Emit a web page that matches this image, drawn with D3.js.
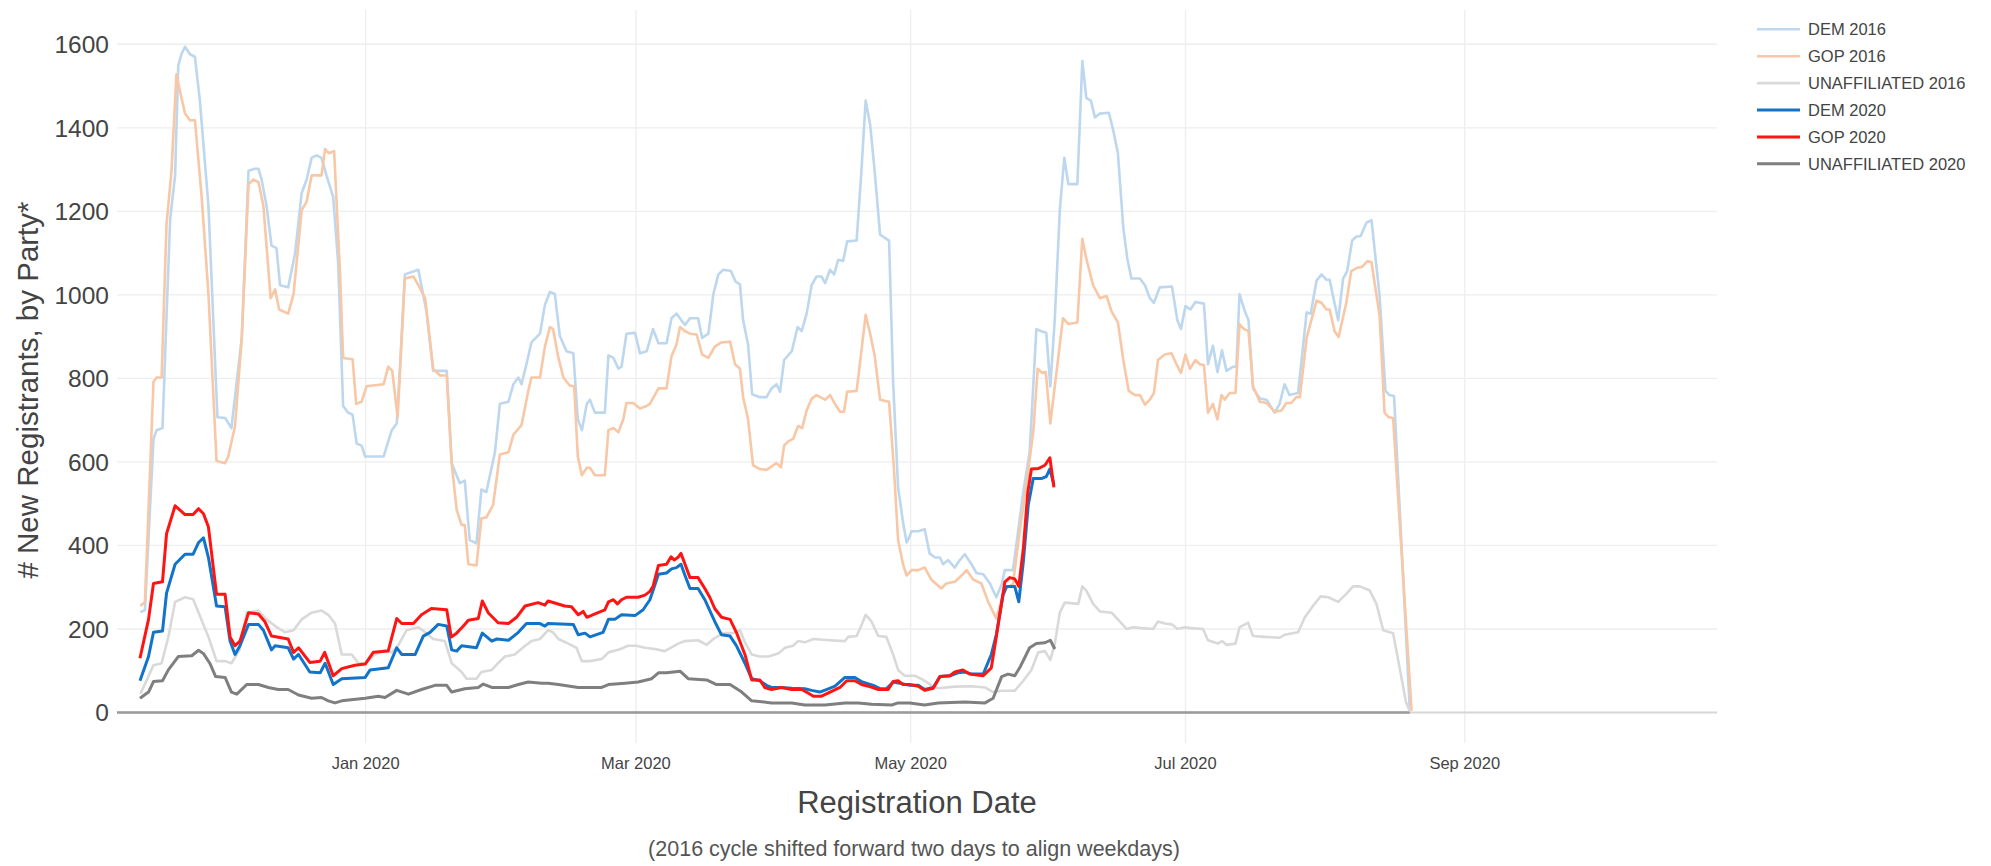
<!DOCTYPE html>
<html>
<head>
<meta charset="utf-8">
<script src="https://cdn.jsdelivr.net/npm/d3@7"></script>
<style>
  body { margin: 0; background: #fff; }
  text { font-family: Arial, "Liberation Sans", sans-serif; fill: #444; }
</style>
</head>
<body>
<div id="chart"></div>
<script>
  // values: [days from 1 Jan 2020, new registrants]
  const dem2016 = [[-50,240],[-49,245],[-47.1,655],[-46.4,676],[-45.1,681],[-44.2,950],[-43.4,1181],[-42.3,1286],[-41.6,1549],[-40.9,1576],[-40.1,1594],[-39,1576],[-37.9,1570],[-36.8,1465],[-34.9,1213],[-32.9,707],[-31.2,705],[-29.8,681],[-27.5,897],[-26,1297],[-24.6,1302],[-23.8,1302],[-23.1,1276],[-22,1213],[-20.9,1118],[-19.8,1112],[-19,1023],[-17.2,1018],[-15.7,1097],[-14.2,1244],[-13.1,1276],[-12,1328],[-10.9,1334],[-9.8,1328],[-8.7,1286],[-7.2,1234],[-6.1,1076],[-5,734],[-3.9,718],[-2.9,713],[-2,644],[-0.9,639],[-0.1,613],[4,613],[5.8,676],[6.9,692],[7.6,823],[8.7,1049],[11.7,1060],[13.5,960],[15,818],[18,818],[19.1,597],[20.9,549],[22,555],[23.1,413],[24.6,405],[25.7,534],[26.8,528],[28.7,623],[29.8,739],[31.7,744],[32.8,786],[33.9,802],[34.6,786],[35.7,834],[36.8,886],[38.7,907],[39.8,976],[40.9,1007],[42,1002],[43.1,902],[44.6,865],[46.1,860],[47.1,702],[48,676],[49.1,739],[49.8,749],[50.9,718],[53.1,718],[53.9,855],[55,849],[56.1,823],[56.8,828],[57.9,907],[59.8,909],[60.9,860],[62.4,865],[63.8,918],[65,884],[66.8,884],[67.9,944],[69,955],[70.1,939],[70.9,928],[72,944],[73.8,944],[74.7,897],[76.1,907],[77.2,1002],[78.3,1049],[79.4,1060],[81.1,1057],[82.1,1032],[83.1,1025],[83.8,939],[84.9,881],[85.8,762],[87.5,755],[89,755],[90.1,776],[91.2,786],[92,768],[92.9,844],[94.6,865],[95.9,923],[96.8,913],[97.9,955],[99,1023],[100.1,1044],[101.2,1044],[102,1028],[103.1,1060],[104,1049],[104.9,1084],[106,1081],[106.9,1128],[109,1130],[110,1286],[111,1465],[112,1407],[113,1297],[114.2,1144],[116.2,1130],[117.1,792],[118.2,539],[119.3,455],[120.1,407],[120.8,423],[121.2,434],[122.7,434],[124.1,439],[125.2,381],[126.4,371],[127.5,371],[128.2,355],[129.3,365],[130.8,347],[131.9,365],[133,379],[134.5,355],[135.6,334],[137.1,331],[138.6,309],[140,276],[141.2,307],[141.9,341],[143.7,341],[146,528],[147.4,623],[148.9,918],[150,913],[151.1,909],[152,781],[153,944],[154.1,1202],[155.1,1328],[156,1265],[158,1265],[159.1,1560],[160,1471],[161,1465],[161.9,1425],[163,1434],[165,1436],[166,1392],[167,1339],[168.2,1160],[169.1,1086],[170,1039],[171.9,1039],[173,1023],[174.1,992],[175,981],[176.3,1018],[179,1020],[180.2,939],[181,918],[182,973],[183.1,965],[184.2,983],[186.1,979],[187,834],[188.1,878],[189.1,815],[190.1,867],[191.1,818],[192.6,828],[193.3,828],[194,1002],[195.2,960],[196,939],[197,776],[198.5,752],[200,749],[201.8,718],[202.9,739],[204,786],[205.1,760],[207,765],[208.9,958],[209.8,955],[211.1,1034],[212.2,1049],[213.3,1036],[214,1036],[215.9,939],[217,1039],[217.9,1057],[219,1130],[219.9,1139],[220.9,1141],[222.2,1173],[223.3,1179],[225.1,997],[226.4,770],[227.3,760],[228.3,758],[231.8,7]];

  const gop2016 = [[-50,255],[-49,265],[-47.1,792],[-46.4,802],[-45.3,802],[-44.2,1170],[-43.1,1297],[-42,1528],[-41.2,1486],[-40.1,1434],[-39,1418],[-37.9,1418],[-36.4,1234],[-34.9,1002],[-33.1,602],[-31.2,597],[-30.5,613],[-29,686],[-27.5,897],[-26,1265],[-24.9,1276],[-23.8,1270],[-22.7,1213],[-21.1,992],[-20.1,1013],[-19.2,965],[-17.2,955],[-16,1002],[-14.2,1202],[-13.1,1223],[-12,1286],[-9.8,1286],[-9,1349],[-8.2,1339],[-7,1344],[-5.7,1055],[-5,849],[-2.9,846],[-2.1,739],[-0.9,744],[0.2,781],[4,786],[5,828],[5.9,818],[7.1,707],[8.7,1039],[10.6,1044],[11.7,1023],[13.2,992],[15,823],[16.5,807],[18,807],[19.1,597],[20.2,486],[21.3,449],[22,449],[22.8,355],[24.6,352],[25.7,465],[26.8,467],[28.3,497],[29.8,618],[31.7,623],[32.8,665],[34.6,688],[36.1,770],[36.8,802],[38.7,802],[39.8,876],[40.9,923],[41.6,918],[42.8,849],[43.9,802],[45.3,783],[46.3,781],[47.1,613],[48,568],[49.1,586],[49.8,586],[50.9,568],[53.1,568],[53.9,676],[55,681],[56.1,671],[57.2,702],[57.9,741],[59.4,741],[60.9,728],[62.4,734],[63.1,739],[64.2,760],[65,776],[66.8,776],[67.9,853],[69,881],[69.8,923],[70.9,913],[72,907],[73.5,905],[74.7,857],[76.1,849],[77.5,876],[79,886],[80.9,888],[82,834],[83.1,823],[83.8,755],[84.9,702],[86,592],[87.5,583],[89,581],[90.1,589],[91.2,597],[92.2,587],[92.9,639],[93.8,649],[94.9,655],[96,686],[96.9,681],[97.9,723],[99,751],[100.1,760],[102,749],[103.1,760],[104.2,739],[105.3,720],[106.2,720],[106.9,768],[109,770],[110,860],[111,952],[112,907],[113,855],[114.2,749],[116.2,744],[117.3,581],[118.2,413],[119.3,355],[120.1,328],[121.2,341],[122.7,341],[124.1,347],[125.6,318],[127.8,297],[128.9,309],[130.8,313],[132.3,328],[133.4,341],[134.9,318],[136.7,309],[138.2,265],[140,225],[141.9,297],[143.7,307],[145.2,434],[147.1,581],[148.2,671],[149.2,823],[150.2,813],[151,815],[152,692],[153.4,818],[154.8,944],[156,930],[158,934],[159.1,1134],[160,1086],[161.5,1023],[163,992],[164.5,997],[165.6,960],[167,934],[168.2,844],[169.4,770],[170.8,760],[171.9,760],[173,737],[174.1,749],[175,765],[175.9,844],[177.4,857],[178.9,860],[180,834],[181,813],[182,857],[183,823],[184.2,844],[185.2,834],[186.1,832],[187,718],[188.1,739],[189.1,702],[190,760],[190.7,749],[191.8,765],[193.1,765],[194,930],[195,918],[196,913],[197,781],[198.5,744],[200,741],[201.8,720],[203.3,723],[204.4,741],[205.5,741],[206.6,755],[207.4,755],[208.9,897],[211.1,986],[212.2,981],[213.3,965],[214,965],[215.1,913],[216,899],[217.7,981],[218.8,1057],[220.2,1065],[221.2,1067],[222.4,1081],[223.3,1078],[225.1,949],[226.2,718],[227.1,707],[228.1,705],[232.2,4]];

  const una2016 = [[-50,45],[-48.5,80],[-47.1,113],[-45.3,118],[-43.8,181],[-42.3,265],[-40.1,276],[-38.3,271],[-34.9,181],[-33.1,123],[-31.2,123],[-29.8,118],[-28,150],[-26.4,239],[-23.8,244],[-22,223],[-20.1,207],[-17.9,192],[-16,197],[-14.2,223],[-12,239],[-9.8,244],[-8.3,234],[-6.8,213],[-5.3,139],[-3.1,139],[-1.6,118],[-0.1,118],[2.1,139],[4.3,150],[5.8,144],[7.2,160],[9.1,197],[11.7,204],[13.2,192],[15,176],[17.6,171],[19.1,118],[21.3,97],[22.4,81],[24.6,81],[25.7,97],[28,102],[29.4,118],[30.9,134],[33.1,139],[35.4,160],[36.8,171],[38.7,176],[40.5,197],[41.6,192],[42.8,176],[45,165],[46.8,155],[48,123],[49.8,123],[52.4,128],[53.9,144],[56.1,150],[58.3,160],[60.1,160],[62,155],[64.2,152],[66.4,147],[69.4,165],[70.9,171],[73.8,173],[75.7,162],[77.2,176],[79.4,190],[81.6,190],[83.1,197],[84.2,168],[85.7,139],[87.5,134],[89.4,134],[91.6,141],[93.1,155],[94.9,160],[96,171],[97.5,168],[99.4,176],[103.1,173],[106.4,171],[107.1,181],[109,183],[110,207],[111,234],[112.3,218],[113.8,183],[115.6,181],[117.1,139],[118.2,102],[119.7,88],[121.9,88],[123.8,78],[125.6,65],[127.1,58],[130.8,62],[134.5,63],[137.5,60],[139.3,49],[141.2,52],[144.1,52],[146,76],[147.8,102],[149.3,144],[150.8,147],[152,126],[153,165],[154.1,239],[155.2,263],[158.2,260],[159.1,302],[160,292],[161.5,260],[163,242],[165.6,239],[167.4,218],[168.9,200],[170.4,204],[172.2,202],[174.8,200],[175.9,218],[177.4,213],[179,211],[180.2,200],[181.8,204],[183.3,202],[185.9,200],[187,173],[189.2,165],[190.1,171],[191.1,162],[193.1,165],[194,204],[195.9,215],[197,183],[199.6,181],[202.9,179],[204,186],[207,192],[208.5,228],[210.3,255],[212,278],[213.7,276],[215.9,265],[217.7,284],[219.2,302],[220.7,302],[222.9,292],[224.4,260],[225.9,197],[228.1,190],[231,23],[231.8,4]];

  const dem2020 = [[-50.1,76],[-48.2,134],[-47.1,192],[-45.1,195],[-44.2,286],[-42.3,355],[-40.1,379],[-38.3,379],[-37.1,407],[-36,418],[-34.9,371],[-33.1,255],[-31.2,253],[-30.1,171],[-29,139],[-27.9,160],[-26,211],[-23.8,211],[-22.7,197],[-20.9,150],[-20.1,160],[-17.2,155],[-16,128],[-14.9,139],[-12.4,97],[-10.1,95],[-9,118],[-7.2,67],[-5.3,81],[-0.1,84],[1,102],[5,107],[6.9,155],[8,139],[11,139],[12.8,183],[14.3,192],[16.1,211],[18,207],[19.1,150],[20.2,147],[21.3,160],[24.6,155],[25.9,190],[28,171],[29.1,176],[31.7,173],[33.9,192],[35.7,213],[38.7,213],[39.8,207],[40.5,213],[46.1,211],[47.2,186],[48.7,190],[49.8,181],[52.7,192],[53.9,223],[55.3,223],[56.8,234],[59.8,232],[61.6,246],[63.1,270],[63.8,292],[65,331],[66.8,334],[67.9,344],[69,347],[70,355],[70.9,328],[72,297],[73.8,297],[75.3,270],[76.4,244],[77.5,218],[79,186],[80.9,183],[82.3,160],[84.2,118],[85.7,81],[87.5,76],[89,65],[90.1,60],[92.3,60],[94.6,58],[97.5,57],[99,53],[100.8,49],[102.3,55],[104.2,63],[106.4,84],[108.6,84],[110.1,74],[112.7,65],[114.2,57],[115.6,57],[117.1,73],[118.6,70],[120.8,65],[122.7,65],[124.1,55],[126,60],[127.5,86],[129.7,88],[131.5,95],[133,97],[134.5,92],[137.1,92],[138.9,139],[140,186],[141.5,281],[142.3,302],[144.1,302],[145,265],[146,360],[147.1,497],[148.2,560],[150,560],[151.1,565],[151.9,583],[152.8,545]];

  const gop2020 = [[-50.1,130],[-48.2,223],[-47.1,309],[-45.1,313],[-44.2,428],[-42.3,495],[-40.1,474],[-38.3,474],[-37.1,488],[-36,476],[-34.9,444],[-33.1,283],[-31.2,283],[-30.1,181],[-29,160],[-27.9,171],[-26,239],[-23.8,236],[-22.4,218],[-20.9,183],[-17.2,176],[-16,144],[-14.9,155],[-12.4,120],[-10.1,123],[-9.1,144],[-7.2,88],[-5.3,105],[-2.4,113],[-0.1,116],[1.7,144],[5,147],[6.9,225],[8,213],[10.6,213],[12.4,234],[14.6,249],[18,246],[19,181],[20.2,190],[21.7,207],[22.8,221],[25,225],[25.9,267],[27.2,239],[29.4,215],[31.7,213],[33.5,228],[35.4,255],[38.3,263],[39.8,257],[40.5,267],[44.2,255],[45.7,253],[47.2,234],[48.3,242],[49.1,228],[51.6,239],[53.1,246],[53.9,265],[55,270],[55.9,260],[56.8,270],[57.9,276],[60.5,276],[62,281],[63.1,290],[63.8,302],[65,352],[66.8,355],[67.8,373],[68.5,365],[69.3,371],[70,381],[70.9,355],[72,323],[73.8,323],[75.3,297],[76.4,276],[77.5,249],[79,228],[80.9,223],[82.3,192],[84.2,139],[85.7,78],[87.5,78],[88.6,60],[90.1,55],[92.3,60],[94.6,55],[96.8,55],[98.3,46],[99.4,39],[101.2,39],[103.1,49],[105.3,60],[106.8,76],[108.6,76],[110.1,67],[111.6,63],[113.8,55],[116,55],[117.1,74],[118.2,76],[119.3,67],[120.8,67],[122.7,63],[124.1,53],[126,58],[127.5,86],[129.7,88],[130.8,97],[132.6,102],[134.1,92],[137.1,88],[138.9,107],[140,181],[141.9,313],[143,323],[144.1,320],[145,302],[146,392],[147,528],[147.8,583],[149.3,584],[150.8,592],[151.9,610],[152.8,539]];

  const una2020 = [[-50.1,34],[-48.2,49],[-47.1,74],[-45.1,76],[-43.8,102],[-41.6,134],[-38.6,136],[-37.1,149],[-36,141],[-34.6,118],[-33.3,86],[-31.2,84],[-29.8,49],[-28.6,44],[-26.4,67],[-23.8,67],[-21.6,60],[-19.4,55],[-17.2,55],[-14.9,42],[-12,34],[-9.8,36],[-8.3,28],[-6.8,23],[-5.3,28],[-0.1,34],[2.8,39],[4.3,36],[6.9,53],[9.5,44],[12.4,55],[15.4,65],[18,65],[19.1,49],[22,57],[25,60],[26.1,68],[28,60],[31.7,60],[33.9,67],[36.1,73],[39.1,70],[40.5,70],[42.8,67],[47.2,60],[52.4,60],[53.9,67],[57.6,70],[60.5,73],[63.5,81],[65,95],[66.8,95],[69.8,99],[71.6,81],[75.7,78],[77.9,67],[80.9,67],[83.5,49],[85.7,28],[87.9,26],[90.1,23],[94.6,23],[97.5,18],[102,18],[106.4,23],[109.4,23],[112.3,20],[116.8,18],[118.2,23],[120.8,23],[124.1,18],[127.1,23],[133,25],[137.5,23],[139.3,34],[141.2,86],[142.6,92],[144.1,88],[145.2,107],[147.4,155],[148.9,165],[150.8,167],[152,173],[153,152]];

  const seriesNames = ["DEM 2016", "GOP 2016", "UNAFFILIATED 2016", "DEM 2020", "GOP 2020", "UNAFFILIATED 2020"];
  const seriesData = [dem2016, gop2016, una2016, dem2020, gop2020, una2020];
  const seriesColors = ["#bdd7ee", "#f8c7a6", "#d9d9d9", "#1274c8", "#ff1414", "#7f7f7f"];
  const seriesWidths = [2.6, 2.6, 2.6, 3, 3, 3];
  const yTicks = [0, 200, 400, 600, 800, 1000, 1200, 1400, 1600];
  const xDomainDays = [-55.2, 300];
  const yDomain = [-73, 1682];

  const width = 1991, height = 866,
    margin = {top: 10, right: 274, bottom: 123, left: 117},
    plotW = width - margin.left - margin.right,
    plotH = height - margin.top - margin.bottom,
    jan1 = Date.UTC(2020, 0, 1),
    toDate = (d) => new Date(jan1 + d * 864e5);

  const svg = d3.select("#chart").append("svg")
      .attr("width", width)
      .attr("height", height);

  const x = d3.scaleUtc()
      .domain(xDomainDays.map(toDate))
      .range([margin.left, margin.left + plotW]);

  const y = d3.scaleLinear()
      .domain(yDomain)
      .range([margin.top + plotH, margin.top]);

  //grid
  const xTicks = x.ticks(d3.utcMonth.every(2));
  svg.append("g").selectAll("line")
    .data(xTicks)
    .enter().append("line")
      .attr("x1", (d) => x(d)).attr("x2", (d) => x(d))
      .attr("y1", margin.top).attr("y2", margin.top + plotH)
      .attr("stroke", "#eeeeee").attr("stroke-width", 1.3);

  svg.append("g").selectAll("line")
    .data(yTicks.filter((d) => d > 0))
    .enter().append("line")
      .attr("x1", margin.left).attr("x2", margin.left + plotW)
      .attr("y1", (d) => y(d)).attr("y2", (d) => y(d))
      .attr("stroke", "#eeeeee").attr("stroke-width", 1.3);

  //zero line, darker where the 2016 cycle has data
  svg.append("line")
      .attr("x1", margin.left).attr("x2", margin.left + plotW)
      .attr("y1", y(0)).attr("y2", y(0))
      .attr("stroke", "#d6d6d6").attr("stroke-width", 2);
  svg.append("line")
      .attr("x1", margin.left).attr("x2", x(toDate(d3.max(dem2016, (d) => d[0]))))
      .attr("y1", y(0)).attr("y2", y(0))
      .attr("stroke", "#9a9a9a").attr("stroke-width", 2.5);

  //axis labels
  svg.append("g").selectAll("text")
    .data(yTicks)
    .enter().append("text")
      .attr("x", 109)
      .attr("y", (d) => y(d))
      .attr("dy", "0.36em")
      .style("text-anchor", "end")
      .style("font-size", "24.5px")
      .text((d) => d);

  svg.append("g").selectAll("text")
    .data(xTicks)
    .enter().append("text")
      .attr("x", (d) => x(d))
      .attr("y", 763)
      .attr("dy", "0.35em")
      .style("text-anchor", "middle")
      .style("font-size", "16.5px")
      .text(d3.utcFormat("%b %Y"));

  //series
  const line = d3.line()
      .x((d) => x(toDate(d[0])))
      .y((d) => y(d[1]));

  svg.append("g").selectAll("path")
    .data(seriesData)
    .enter().append("path")
      .attr("d", (d) => line(d))
      .attr("fill", "none")
      .attr("stroke", (d, i) => seriesColors[i])
      .attr("stroke-width", (d, i) => seriesWidths[i])
      .attr("stroke-linejoin", "round");

  //titles
  svg.append("text")
      .attr("x", margin.left + plotW / 2)
      .attr("y", 802)
      .attr("dy", "0.35em")
      .style("text-anchor", "middle")
      .style("font-size", "31px")
      .text("Registration Date");

  svg.append("text")
      .attr("x", 914)
      .attr("y", 848)
      .attr("dy", "0.35em")
      .style("text-anchor", "middle")
      .style("font-size", "21.5px")
      .style("fill", "#555")
      .text("(2016 cycle shifted forward two days to align weekdays)");

  svg.append("text")
      .attr("transform", "translate(28," + 390 + ") rotate(-90)")
      .attr("dy", "0.35em")
      .style("text-anchor", "middle")
      .style("font-size", "29.5px")
      .text("# New Registrants, by Party*");

  //legend
  const legend = svg.append("g").selectAll("g")
    .data(seriesNames)
    .enter().append("g")
      .attr("transform", (d, i) => "translate(1757," + (29.3 + i * 26.9) + ")");

  legend.append("line")
      .attr("x1", 0).attr("x2", 43)
      .attr("stroke", (d, i) => seriesColors[i])
      .attr("stroke-width", (d, i) => seriesWidths[i]);

  legend.append("text")
      .attr("x", 51)
      .attr("dy", "0.36em")
      .style("font-size", "16.5px")
      .text((d) => d);
</script>
</body>
</html>
